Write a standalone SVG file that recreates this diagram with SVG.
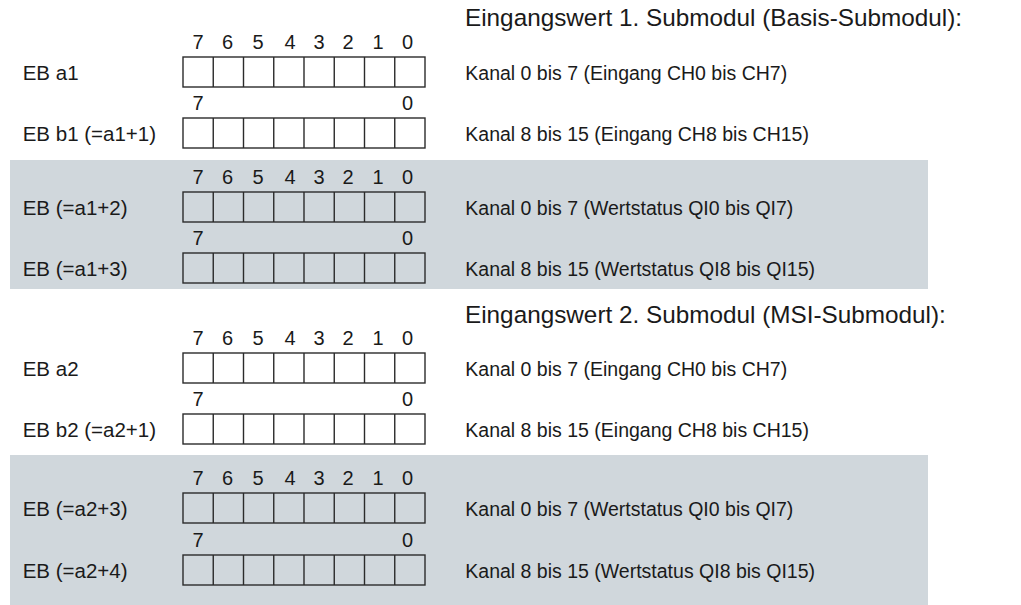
<svg xmlns="http://www.w3.org/2000/svg" width="1021" height="605" viewBox="0 0 1021 605">
<defs>
<style>
text{font-family:"Liberation Sans",Arial,sans-serif;fill:#1a1a1a}
.lbl{font-size:20.5px}
.bit{font-size:20px;text-anchor:middle}
.desc{font-size:19.5px}
.hdr{font-size:24.3px}
.band{fill:#d0d7dc}
.cell{fill:none;stroke:#2b2b2b;stroke-width:1.4}
</style>
<g id="reg">
<rect class="cell" x="183" y="0" width="242" height="30"/>
<path class="cell" d="M213.25 0V30M243.5 0V30M273.75 0V30M304 0V30M334.25 0V30M364.5 0V30M394.75 0V30"/>
</g>
<g id="bits8">
<text class="bit" x="198" y="0">7</text>
<text class="bit" x="227.5" y="0">6</text>
<text class="bit" x="258" y="0">5</text>
<text class="bit" x="290" y="0">4</text>
<text class="bit" x="319" y="0">3</text>
<text class="bit" x="348" y="0">2</text>
<text class="bit" x="378" y="0">1</text>
<text class="bit" x="407.5" y="0">0</text>
</g>
<g id="bits2">
<text class="bit" x="198" y="0">7</text>
<text class="bit" x="407.5" y="0">0</text>
</g>
</defs>
<rect width="1021" height="605" fill="#ffffff"/>
<rect id="band1" class="band" x="10" y="160" width="918" height="129"/>
<rect id="band2" class="band" x="10" y="455" width="918" height="150"/>

<g id="header1"><text class="hdr" x="465" y="26">Eingangswert 1. Submodul (Basis-Submodul):</text></g>
<g id="header2"><text class="hdr" x="465" y="323">Eingangswert 2. Submodul (MSI-Submodul):</text></g>

<g id="row-eb-a1">
<use href="#bits8" y="49"/><use href="#reg" y="57"/>
<text class="lbl" x="22.7" y="79.5">EB a1</text>
<text class="desc" x="465.3" y="79.5">Kanal 0 bis 7 (Eingang CH0 bis CH7)</text>
</g>
<g id="row-eb-b1">
<use href="#bits2" y="110"/><use href="#reg" y="118"/>
<text class="lbl" x="22.7" y="140.5">EB b1 (=a1+1)</text>
<text class="desc" x="465.3" y="140.5">Kanal 8 bis 15 (Eingang CH8 bis CH15)</text>
</g>
<g id="row-eb-a1p2">
<use href="#bits8" y="184"/><use href="#reg" y="192"/>
<text class="lbl" x="22.7" y="214.5">EB (=a1+2)</text>
<text class="desc" x="465.3" y="214.5">Kanal 0 bis 7 (Wertstatus QI0 bis QI7)</text>
</g>
<g id="row-eb-a1p3">
<use href="#bits2" y="245"/><use href="#reg" y="253"/>
<text class="lbl" x="22.7" y="275.5">EB (=a1+3)</text>
<text class="desc" x="465.3" y="275.5">Kanal 8 bis 15 (Wertstatus QI8 bis QI15)</text>
</g>
<g id="row-eb-a2">
<use href="#bits8" y="345"/><use href="#reg" y="353"/>
<text class="lbl" x="22.7" y="375.5">EB a2</text>
<text class="desc" x="465.3" y="375.5">Kanal 0 bis 7 (Eingang CH0 bis CH7)</text>
</g>
<g id="row-eb-b2">
<use href="#bits2" y="406"/><use href="#reg" y="414"/>
<text class="lbl" x="22.7" y="436.5">EB b2 (=a2+1)</text>
<text class="desc" x="465.3" y="436.5">Kanal 8 bis 15 (Eingang CH8 bis CH15)</text>
</g>
<g id="row-eb-a2p3">
<use href="#bits8" y="485"/><use href="#reg" y="493"/>
<text class="lbl" x="22.7" y="515.5">EB (=a2+3)</text>
<text class="desc" x="465.3" y="515.5">Kanal 0 bis 7 (Wertstatus QI0 bis QI7)</text>
</g>
<g id="row-eb-a2p4">
<use href="#bits2" y="547"/><use href="#reg" y="555"/>
<text class="lbl" x="22.7" y="577.5">EB (=a2+4)</text>
<text class="desc" x="465.3" y="577.5">Kanal 8 bis 15 (Wertstatus QI8 bis QI15)</text>
</g>
<g id="connectors"></g>
</svg>
